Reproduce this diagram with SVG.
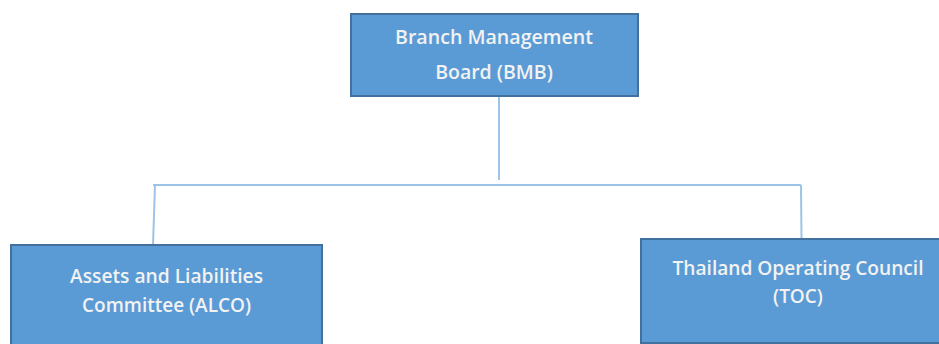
<svg xmlns="http://www.w3.org/2000/svg" width="939" height="344" viewBox="0 0 939 344">
<style>
.box{fill:#5B9BD5;stroke:#41719C;stroke-width:2}
.t{font-family:"Open Sans","Liberation Sans",sans-serif;font-weight:600;fill:#F2F2F2;text-anchor:middle}
.c{stroke:#9DC3E6;stroke-width:2;fill:none}
</style>
<rect width="939" height="344" fill="#fff"/>
<g id="connectors">
<line class="c" x1="499" y1="96" x2="499" y2="180"/>
<line class="c" x1="153" y1="185" x2="801" y2="185"/>
<line class="c" x1="155" y1="185" x2="153" y2="245"/>
<line class="c" x1="801" y1="185" x2="801.5" y2="239"/>
</g>
<g id="bmb">
<rect class="box" x="351" y="14" width="287" height="82"/>
<text class="t" x="494" y="44" font-size="19.5" textLength="198" lengthAdjust="spacingAndGlyphs">Branch Management</text>
<text class="t" x="494" y="79" font-size="19.5">Board (BMB)</text>
</g>
<g id="alco">
<rect class="box" x="11" y="245" width="311" height="110"/>
<text class="t" x="166.5" y="283" font-size="19" textLength="193" lengthAdjust="spacingAndGlyphs">Assets and Liabilities</text>
<text class="t" x="166.5" y="312" font-size="19">Committee (ALCO)</text>
</g>
<g id="toc">
<rect class="box" x="641" y="239" width="320" height="104"/>
<text class="t" x="798" y="275" font-size="19" textLength="251" lengthAdjust="spacingAndGlyphs">Thailand Operating Council</text>
<text class="t" x="798" y="303" font-size="19">(TOC)</text>
</g>
</svg>
